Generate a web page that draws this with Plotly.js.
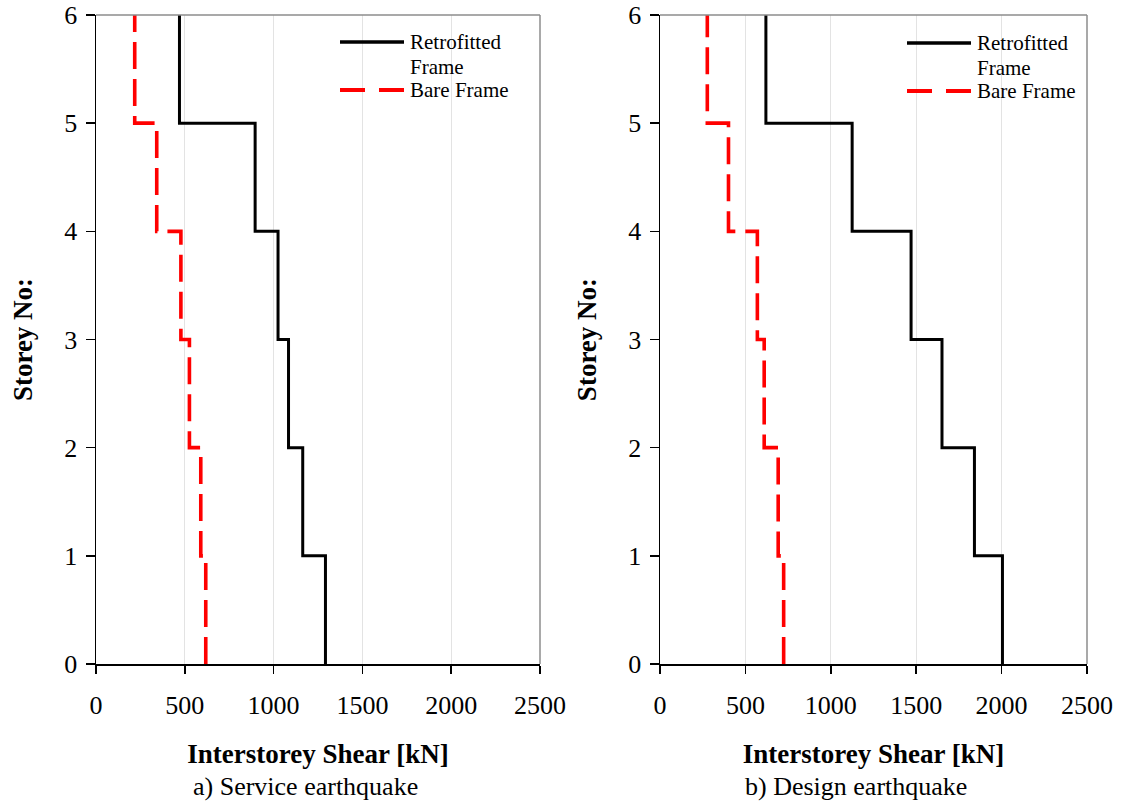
<!DOCTYPE html>
<html>
<head>
<meta charset="utf-8">
<script src="https://cdn.plot.ly/plotly-3.0.1.min.js"></script>
<style>html,body{margin:0;padding:0;background:#fff;}#chart{width:1128px;height:803px;}</style>
</head>
<body>
<div id="chart"></div>
<script>
// Storey intervals 0-1 ... 5-6
const storeyLevels = [0, 1, 2, 3, 4, 5, 6];
const xTicks = [0, 500, 1000, 1500, 2000, 2500];
const yTicks = [0, 1, 2, 3, 4, 5, 6];

// a) Service earthquake (kN)
const serviceRetrofitted = [1292, 1164, 1084, 1025, 896, 470];
const serviceBare = [618, 590, 526, 478, 342, 218];
// b) Design earthquake (kN)
const designRetrofitted = [2005, 1841, 1651, 1470, 1125, 620];
const designBare = [724, 692, 610, 570, 401, 277];

const seriesNames = ["Retrofitted Frame", "Bare Frame"];
const panelCaptions = ["a) Service earthquake", "b) Design earthquake"];
const xTitle = "Interstorey Shear [kN]";
const yTitle = "Storey No:";

function stepProfile(vals) {
  const x = [], y = [];
  for (let k = 0; k < vals.length; k++) {
    x.push(vals[k], vals[k]);
    y.push(storeyLevels[k], storeyLevels[k + 1]);
  }
  return {x, y};
}

const FONT = "Liberation Serif";
const blackLine = {color: "#000000", width: 3};
const redLine = {color: "#ff0000", width: 3.6, dash: "27px,10px"};

const s1 = stepProfile(serviceRetrofitted), s2 = stepProfile(serviceBare);
const d1 = stepProfile(designRetrofitted), d2 = stepProfile(designBare);

const traces = [
  {x: s1.x, y: s1.y, xaxis: "x", yaxis: "y", mode: "lines", line: blackLine, name: seriesNames[0], showlegend: false},
  {x: s2.x, y: s2.y, xaxis: "x", yaxis: "y", mode: "lines", line: redLine, name: seriesNames[1], showlegend: false},
  {x: d1.x, y: d1.y, xaxis: "x2", yaxis: "y2", mode: "lines", line: blackLine, name: seriesNames[0], showlegend: false},
  {x: d2.x, y: d2.y, xaxis: "x2", yaxis: "y2", mode: "lines", line: redLine, name: seriesNames[1], showlegend: false}
];

const W = 1128, H = 803;
const px = v => v / W, py = v => 1 - v / H;

function xAxis(domain, anchor) {
  return {
    domain: domain, anchor: anchor, range: [0, 2500], tickvals: xTicks,
    ticktext: xTicks.map(String),
    showgrid: true, gridcolor: "#e3e3e3", gridwidth: 1, zeroline: false,
    showline: true, linecolor: "#000", linewidth: 1.5,
    ticks: "outside", ticklen: 8, tickwidth: 1.5, tickcolor: "#000",
    ticklabelstandoff: 9,
    tickfont: {family: FONT, size: 26, color: "#000"},
    title: {text: "<b>" + xTitle + "</b>", font: {family: FONT, size: 27, color: "#000"}, standoff: 25},
    fixedrange: true
  };
}
function yAxis(anchor) {
  return {
    domain: [py(664), py(15)], anchor: anchor, range: [0, 6], tickvals: yTicks,
    showgrid: false, zeroline: false,
    showline: true, linecolor: "#000", linewidth: 1.5,
    ticks: "outside", ticklen: 9, tickwidth: 1.5, tickcolor: "#000",
    ticklabelstandoff: 3,
    tickfont: {family: FONT, size: 26, color: "#000"},
    title: {text: "<b>" + yTitle + "</b>", font: {family: FONT, size: 27, color: "#000"}, standoff: 24},
    fixedrange: true
  };
}

const shapes = [];
const annotations = [];
function frame(xr, yr) {
  shapes.push({type: "line", xref: xr + " domain", yref: yr + " domain", x0: 0, x1: 1, y0: 1, y1: 1, line: {color: "#8c8c8c", width: 1.5}, layer: "above"});
  shapes.push({type: "line", xref: xr + " domain", yref: yr + " domain", x0: 1, x1: 1, y0: 0, y1: 1, line: {color: "#8c8c8c", width: 1.5}, layer: "above"});
}
frame("x", "y");
frame("x2", "y2");

function legendBox(x0, boxRight, rows) {
  shapes.push({type: "rect", xref: "paper", yref: "paper", x0: px(x0 - 10), x1: px(boxRight), y0: py(128), y1: py(24), fillcolor: "#ffffff", line: {width: 0}, layer: "between"});
  shapes.push({type: "line", xref: "paper", yref: "paper", x0: px(x0), x1: px(x0 + 64), y0: py(rows[0]), y1: py(rows[0]), line: {color: "#000", width: 3.5}, layer: "above"});
  shapes.push({type: "line", xref: "paper", yref: "paper", x0: px(x0), x1: px(x0 + 64), y0: py(rows[2]), y1: py(rows[2]), line: {color: "#ff0000", width: 3.8, dash: "25px,14px"}, layer: "above"});
  const tx = x0 + 68;
  const txt = [seriesNames[0].split(" ")[0], seriesNames[0].split(" ")[1], seriesNames[1]];
  for (let i = 0; i < 3; i++) {
    annotations.push({xref: "paper", yref: "paper", x: px(tx), y: py(rows[i]), xanchor: "left", yanchor: "middle", showarrow: false, text: txt[i], font: {family: FONT, size: 21, color: "#000"}});
  }
}
legendBox(340, 536, [42, 67, 90]);
legendBox(907, 1083, [43, 68, 91]);

annotations.push({xref: "paper", yref: "paper", x: px(305), y: py(786), xanchor: "center", yanchor: "middle", showarrow: false, text: panelCaptions[0], font: {family: FONT, size: 26, color: "#000"}});
annotations.push({xref: "paper", yref: "paper", x: px(856), y: py(786), xanchor: "center", yanchor: "middle", showarrow: false, text: panelCaptions[1], font: {family: FONT, size: 26, color: "#000"}});

const layout = {
  width: W, height: H,
  margin: {l: 0, r: 0, t: 0, b: 0},
  paper_bgcolor: "#ffffff", plot_bgcolor: "#ffffff",
  showlegend: false,
  font: {family: FONT, color: "#000"},
  xaxis: xAxis([px(96), px(540)], "y"),
  yaxis: yAxis("x"),
  xaxis2: xAxis([px(660), px(1087)], "y2"),
  yaxis2: yAxis("x2"),
  shapes: shapes,
  annotations: annotations
};

Plotly.newPlot("chart", traces, layout, {displayModeBar: false, staticPlot: true});
</script>
</body>
</html>
